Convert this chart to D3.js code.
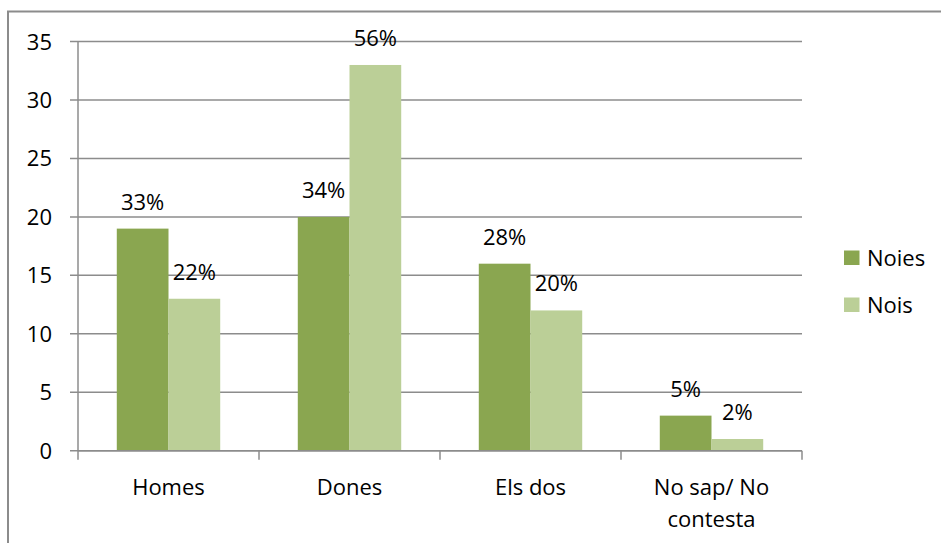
<!DOCTYPE html>
<html><head><meta charset="utf-8">
<script src="https://cdn.jsdelivr.net/npm/d3@7"></script>
<style>html,body{margin:0;padding:0;background:#fff;}svg{display:block;}</style>
</head><body>
<script>
const categories = [["Homes"], ["Dones"], ["Els dos"], ["No sap/ No", "contesta"]];
const seriesNames = ["Noies", "Nois"];
const noies = [19, 20, 16, 3];
const nois = [13, 33, 12, 1];
const noiesLabels = ["33%", "34%", "28%", "5%"];
const noisLabels = ["22%", "56%", "20%", "2%"];
const yTicks = [0, 5, 10, 15, 20, 25, 30, 35];
const colors = ["#8aa650", "#bbcf97"];

const W = 941, H = 543;
const FONT = "'Open Sans', sans-serif";
const FS = 22;
const svg = d3.select("body").append("svg").attr("width", W).attr("height", H);

// outer frame
svg.append("rect").attr("x", 8).attr("y", 11.5).attr("width", 940).attr("height", 560)
  .attr("fill", "none").attr("stroke", "#8c8c8c").attr("stroke-width", 2);

const x0 = 78, x1 = 802, yTop = 41.6, yBot = 450.7;
const x = d3.scaleBand().domain(d3.range(categories.length)).range([x0, x1]).paddingInner(0).paddingOuter(0);
const y = d3.scaleLinear().domain([0, 35]).range([yBot, yTop]);
const bw = x.bandwidth() * 2 / 7; // Excel gap width 150%
const sub = d3.scaleBand().domain([0, 1]).range([0, 2 * bw]);

const grid = "#8c8c8c";
svg.append("g").selectAll("line").data(yTicks).join("line")
  .attr("x1", x0 - 8).attr("x2", x1).attr("y1", d => y(d)).attr("y2", d => y(d))
  .attr("stroke", grid).attr("stroke-width", 1.5);

svg.append("line").attr("x1", x0).attr("x2", x0).attr("y1", yTop).attr("y2", yBot)
  .attr("stroke", grid).attr("stroke-width", 1.5);

svg.append("g").selectAll("text").data(yTicks).join("text")
  .attr("x", 52).attr("y", d => y(d) + 8).attr("text-anchor", "end")
  .attr("font-family", FONT).attr("font-size", FS).attr("fill", "#000").text(d => d);

const series = [noies, nois];
const labels = [noiesLabels, noisLabels];
series.forEach((vals, si) => {
  const g = svg.append("g");
  g.selectAll("rect").data(vals).join("rect")
    .attr("x", (d, i) => x(i) + (x.bandwidth() - 2 * bw) / 2 + sub(si))
    .attr("y", d => y(d)).attr("width", bw).attr("height", d => yBot - y(d))
    .attr("fill", colors[si]);
  g.selectAll("text").data(vals).join("text")
    .attr("x", (d, i) => x(i) + (x.bandwidth() - 2 * bw) / 2 + sub(si) + bw / 2)
    .attr("y", d => y(d) - 19).attr("text-anchor", "middle")
    .attr("font-family", FONT).attr("font-size", FS).attr("fill", "#000")
    .text((d, i) => labels[si][i]);
});

svg.append("line").attr("x1", x0).attr("x2", x1).attr("y1", yBot).attr("y2", yBot)
  .attr("stroke", grid).attr("stroke-width", 1.5);
const xt = d3.range(categories.length + 1).map(i => x0 + i * x.bandwidth());
svg.append("g").selectAll("line").data(xt).join("line")
  .attr("x1", d => d).attr("x2", d => d).attr("y1", yBot).attr("y2", yBot + 9)
  .attr("stroke", grid).attr("stroke-width", 1.5);

const cl = svg.append("g").selectAll("text").data(categories).join("text")
  .attr("text-anchor", "middle").attr("font-family", FONT).attr("font-size", FS).attr("fill", "#000");
cl.each(function(lines, i) {
  d3.select(this).selectAll("tspan").data(lines).join("tspan")
    .attr("x", x(i) + x.bandwidth() / 2).attr("y", (d, j) => 495 + j * 32).text(d => d);
});

const lg = svg.append("g");
seriesNames.forEach((n, i) => {
  lg.append("rect").attr("x", 844).attr("y", 250.5 + i * 47).attr("width", 15.5).attr("height", 14.5).attr("fill", colors[i]);
  lg.append("text").attr("x", 867).attr("y", 265.5 + i * 47).attr("font-family", FONT).attr("font-size", FS).attr("fill", "#000").text(n);
});
</script>
</body></html>
